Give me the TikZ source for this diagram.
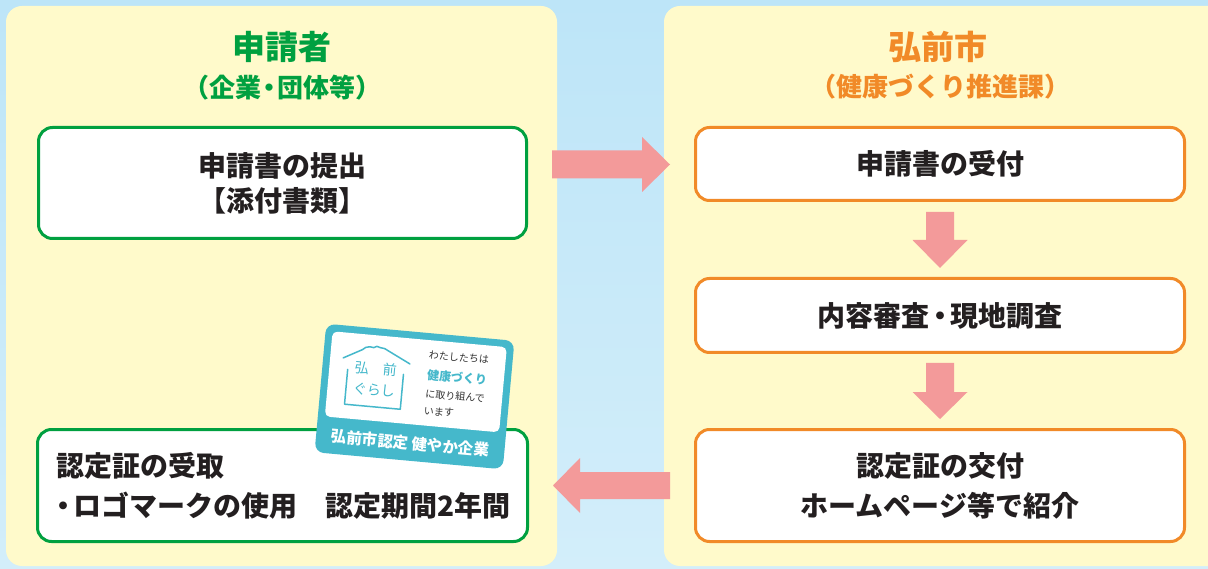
\documentclass[tikz,border=0pt]{standalone}
\usepackage{fontspec}
\setmainfont{Noto Sans CJK JP}
\usetikzlibrary{calc}
\definecolor{bgtop}{HTML}{BDE5F8}
\definecolor{bgbot}{HTML}{D3EEFA}
\definecolor{panelc}{HTML}{FFFACB}
\definecolor{greenc}{HTML}{00A040}
\definecolor{orangec}{HTML}{F18A28}
\definecolor{pinkc}{HTML}{F39A9A}
\definecolor{tealc}{HTML}{45B8CB}
\definecolor{textc}{HTML}{231F20}
\definecolor{cardtext}{HTML}{333333}
\begin{document}
\begin{tikzpicture}[x=1pt,y=-1pt,
  panel/.style={fill=panelc, rounded corners=16},
  boxbase/.style={line width=3, fill=white, rounded corners=14, inner sep=0pt, text=textc, align=center},
  gbox/.style={boxbase, draw=greenc},
  obox/.style={boxbase, draw=orangec},
  boxfont/.style={font=\bfseries\fontsize{28}{40}\selectfont},
  titlefont/.style={font=\bfseries\fontsize{33}{33}\selectfont},
  subfont/.style={font=\bfseries\fontsize{26}{26}\selectfont},
  blockarrow/.style={fill=pinkc},
  icon/.style={draw=tealc, line width=1.5, line join=round, line cap=round},
  cardline/.style={anchor=west, inner sep=0pt, text=cardtext, font=\fontsize{10}{10}\selectfont}
]
\useasboundingbox (0,0) rectangle (1208,569);
\clip (0,0) rectangle (1208,569);
\shade[top color=bgtop, bottom color=bgbot] (0,0) rectangle (1208,569);

% panels
\fill[panel] (6,6) rectangle (557,566);
\fill[panel] (664,6) rectangle (1240,566);

% titles
\node[titlefont, text=greenc] (t1) at (282,47) {申請者};
\node[subfont, text=greenc] (t2) at (282,88) {（企業\kern-5pt・\kern-5pt団体等）};
\node[titlefont, text=orangec] (t3) at (938,47) {弘前市};
\node[subfont, text=orangec] (t4) at (940,87) {（健康づくり推進課）};

% left boxes
\node[gbox, boxfont, font=\bfseries\fontsize{28}{35}\selectfont, minimum width=488, minimum height=111] (s1) at (282.5,183) {申請書の提出\\【添付書類】};
\node[gbox, boxfont, minimum width=490, minimum height=112, text width=452, align=left] (s2) at (282.5,485.5)
  {認定証の受取\\\hspace*{-7pt}・\kern-4pt ロゴマークの使用　認定期間2年間};

% right boxes
\node[obox, boxfont, minimum width=489, minimum height=73] (r1) at (940,164) {申請書の受付};
\node[obox, boxfont, minimum width=489, minimum height=74] (r2) at (940,315.5) {内容審査\kern-3.5pt・\kern-3.5pt現地調査};
\node[obox, boxfont, minimum width=489, minimum height=112] (r3) at (940,485.5) {認定証の交付\\ホームページ等で紹介};

% block arrows
\coordinate (A1) at (552,164.5);
\fill[blockarrow] (A1) ++(0,-14) -- ++(90,0) -- ++(0,-13.5) -- ++(28,27.5) -- ++(-28,27.5) -- ++(0,-13.5) -- ++(-90,0) -- cycle;
\coordinate (A2) at ($(r1.south)+(0,10)$);
\fill[blockarrow] (A2) ++(-14,0) -- ++(0,28) -- ++(-13.5,0) -- ++(27.5,28) -- ++(27.5,-28) -- ++(-13.5,0) -- ++(0,-28) -- cycle;
\coordinate (A3) at ($(r2.south)+(0,9)$);
\fill[blockarrow] (A3) ++(-14,0) -- ++(0,29) -- ++(-13.5,0) -- ++(27.5,27) -- ++(27.5,-27) -- ++(-13.5,0) -- ++(0,-29) -- cycle;
\coordinate (A4) at (670,485.5);
\fill[blockarrow] (A4) ++(0,-13.5) -- ++(-90,0) -- ++(0,-14) -- ++(-27,27.5) -- ++(27,27.5) -- ++(0,-14) -- ++(90,0) -- cycle;

% logo card
\begin{scope}[shift={(414.5,396.5)}, rotate=-5.2, transform shape]
  \fill[tealc, rounded corners=9] (-94.5,-64.5) rectangle (94.5,64.5);
  \fill[white, rounded corners=5] (-87.5,-57.5) rectangle (87.5,28);
  \draw[icon] (-74.5,-32) -- (-56,-42) -- (-53,-44.5) -- (-49,-45.5) -- (-45,-45) -- (-42,-46.5) -- (-38,-45.5) -- (-34,-45) -- (-30,-43) -- (-7.5,-32);
  \draw[icon] (-69,-21) -- (-69,14) -- (-13,14) -- (-13,-21);
  \node[inner sep=0pt, text=tealc, font=\fontsize{14}{14}\selectfont] (k1) at (-41,-24) {弘　前};
  \node[inner sep=0pt, text=tealc, font=\fontsize{14}{14}\selectfont] (k2) at (-41,-3) {ぐらし};
  \node[cardline] (m1) at (10.5,-43) {わたしたちは};
  \node[cardline, text=tealc, font=\bfseries\fontsize{12}{12}\selectfont] (m2) at (10.5,-23) {健康づくり};
  \node[cardline] (m3) at (10.5,-4) {に取り組んで};
  \node[cardline] (m4) at (10.5,13) {います};
  \node[inner sep=0pt, text=white, font=\bfseries\fontsize{15.5}{15.5}\selectfont] (m5) at (0,47) {弘前市認定 健やか企業};
\end{scope}
\end{tikzpicture}
\end{document}
